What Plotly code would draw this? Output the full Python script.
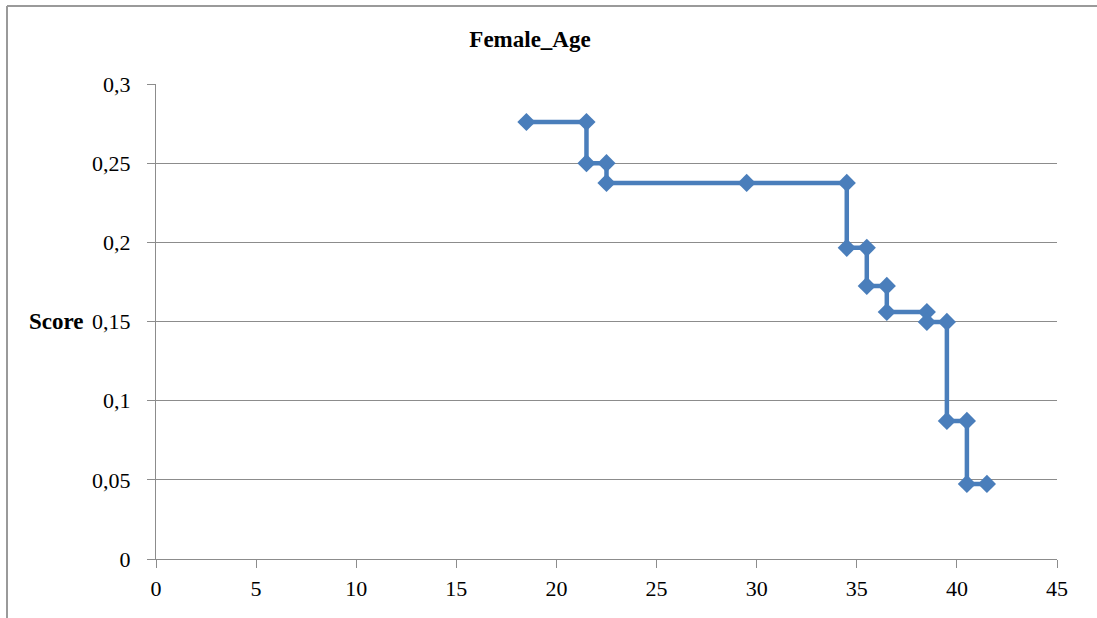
import plotly.graph_objects as go

age = [18.5, 21.5, 21.5, 22.5, 22.5, 29.5, 34.5, 34.5, 35.5, 35.5, 36.5, 36.5,
       38.5, 38.5, 39.5, 39.5, 40.5, 40.5, 41.5]
score = [0.276, 0.276, 0.250, 0.250, 0.2375, 0.2375, 0.2375, 0.1965, 0.1965, 0.1725,
         0.1725, 0.156, 0.156, 0.1497, 0.1497, 0.0872, 0.0872, 0.0474, 0.0474]

x_ticks = [0, 5, 10, 15, 20, 25, 30, 35, 40, 45]
y_ticks = [0, 0.05, 0.1, 0.15, 0.2, 0.25, 0.3]
y_labels = ["0", "0,05", "0,1", "0,15", "0,2", "0,25", "0,3"]

color = "#4a7ebb"
grid = "#8c8c8c"
font_family = "Liberation Serif"

fig = go.Figure()
fig.add_trace(go.Scatter(
    x=age, y=score, mode="lines+markers",
    line=dict(color=color, width=4.5),
    marker=dict(symbol="diamond", size=14, color=color),
    showlegend=False, cliponaxis=False,
))

fig.update_layout(
    width=1097, height=618,
    margin=dict(l=156, r=40, t=84, b=59),
    paper_bgcolor="white", plot_bgcolor="white",
    font=dict(family=font_family, size=22, color="black"),
    title=dict(text="<b>Female_Age</b>", x=530 / 1097, xanchor="center",
               y=1 - 39 / 618, yanchor="middle",
               font=dict(family=font_family, size=23, color="black")),
    xaxis=dict(range=[0, 45], tickvals=x_ticks, ticks="outside", ticklen=8,
               tickcolor=grid, showline=True, linecolor=grid, linewidth=1,
               showgrid=False, zeroline=False, fixedrange=True,
               ticklabelstandoff=2, tickfont=dict(family=font_family, size=22)),
    yaxis=dict(range=[0, 0.3], tickvals=y_ticks, ticktext=y_labels,
               ticks="outside", ticklen=8, tickcolor=grid, showline=True,
               linecolor=grid, linewidth=1, showgrid=True, gridcolor=grid,
               gridwidth=1, zeroline=False, fixedrange=True,
               ticklabelstandoff=12, tickfont=dict(family=font_family, size=22)),
    annotations=[dict(text="<b>Score</b>", xref="paper", yref="y",
                      x=(56 - 156) / 901, y=0.15, xanchor="center",
                      yanchor="middle", showarrow=False,
                      font=dict(family=font_family, size=23, color="black"))],
    shapes=[
        dict(type="line", xref="paper", yref="paper",
             x0=(7 - 156) / 901, x1=(1100 - 156) / 901,
             y0=(559 - 6) / 475, y1=(559 - 6) / 475,
             line=dict(color="#9a9a9a", width=2)),
        dict(type="line", xref="paper", yref="paper",
             x0=(7 - 156) / 901, x1=(7 - 156) / 901,
             y0=(559 - 6) / 475, y1=(559 - 620) / 475,
             line=dict(color="#9a9a9a", width=2)),
    ],
)

fig.write_html("out.html")
